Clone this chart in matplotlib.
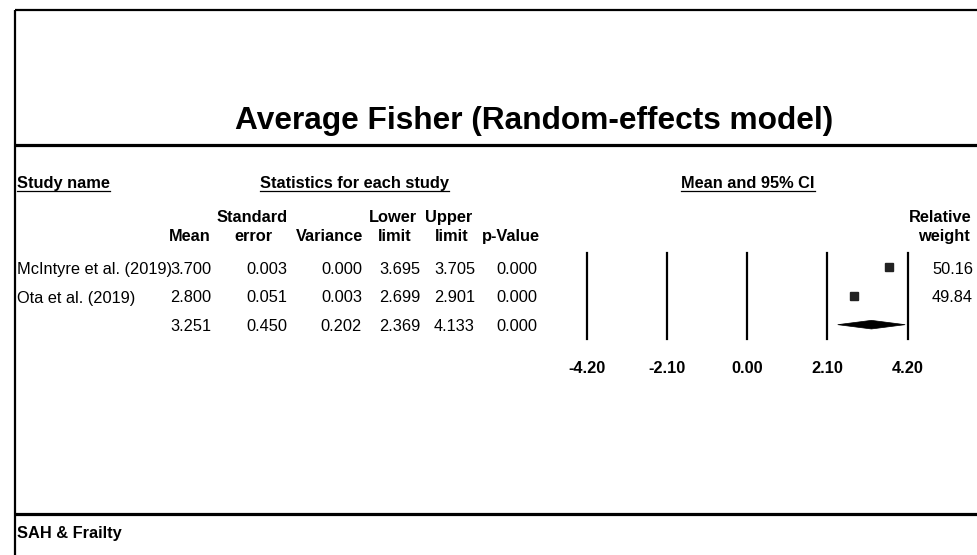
import matplotlib
matplotlib.use("Agg")
import matplotlib.pyplot as plt
from matplotlib.patches import Polygon
import matplotlib.transforms as mtransforms

plt.rcParams['font.family'] = ['Liberation Sans', 'DejaVu Sans']

# ---------------- data ----------------
title = "Average Fisher (Random-effects model)"
studies = ["McIntyre et al. (2019)", "Ota et al. (2019)", ""]
means = [3.700, 2.800, 3.251]
std_err = [0.003, 0.051, 0.450]
variances = [0.000, 0.003, 0.202]
lower = [3.695, 2.699, 2.369]
upper = [3.705, 2.901, 4.133]
p_values = [0.000, 0.000, 0.000]
rel_weight = [50.16, 49.84]
ticks = [-4.20, -2.10, 0.00, 2.10, 4.20]
group_label = "SAH & Frailty"

W, H = 978, 555
fig = plt.figure(figsize=(W / 100, H / 100), dpi=100)

# background overlay in pixel coordinates
bg = fig.add_axes([0, 0, 1, 1])
bg.set_xlim(0, W)
bg.set_ylim(H, 0)
bg.axis('off')

FS = 11.8
# borders
bg.plot([15, 15], [10, H], color='black', lw=1.6, solid_capstyle='butt')
bg.plot([15, W], [10, 10], color='black', lw=1.6, solid_capstyle='butt')
bg.plot([15, W], [145, 145], color='black', lw=2.3, solid_capstyle='butt')
bg.plot([15, W], [514, 514], color='black', lw=2.3, solid_capstyle='butt')

# title
bg.text(534, 129, title, ha='center', va='baseline', fontsize=22.8, fontweight='bold')

# top headers with underlines
def underlined(x, y, s, ha):
    t = bg.text(x, y, s, ha=ha, va='baseline', fontsize=FS, fontweight='bold')
    fig.canvas.draw()
    bb = t.get_window_extent()
    bg.plot([bb.x0, bb.x1], [y + 3, y + 3], color='black', lw=0.9)

underlined(17, 188, "Study name", 'left')
underlined(354, 188, "Statistics for each study", 'center')
underlined(748, 188, "Mean and 95% CI", 'center')

# column headers
hdr1_y, hdr2_y = 222, 241
bold = dict(va='baseline', fontsize=FS, fontweight='bold')
bg.text(211, hdr2_y, "Mean", ha='right', **bold)
bg.text(252, hdr1_y, "Standard", ha='center', **bold)
bg.text(253, hdr2_y, "error", ha='center', **bold)
bg.text(363, hdr2_y, "Variance", ha='right', **bold)
bg.text(393, hdr1_y, "Lower", ha='center', **bold)
bg.text(395, hdr2_y, "limit", ha='center', **bold)
bg.text(449, hdr1_y, "Upper", ha='center', **bold)
bg.text(468, hdr2_y, "limit", ha='right', **bold)
bg.text(540, hdr2_y, "p-Value", ha='right', **bold)
bg.text(972, hdr1_y, "Relative", ha='right', **bold)
bg.text(970, hdr2_y, "weight", ha='right', **bold)

# rows
row_base = [274, 302.5, 331]
for i in range(3):
    y = row_base[i]
    if studies[i]:
        bg.text(17, y, studies[i], ha='left', va='baseline', fontsize=FS)
    bg.text(211, y, f"{means[i]:.3f}", ha='right', va='baseline', fontsize=FS)
    bg.text(287, y, f"{std_err[i]:.3f}", ha='right', va='baseline', fontsize=FS)
    bg.text(362, y, f"{variances[i]:.3f}", ha='right', va='baseline', fontsize=FS)
    bg.text(420, y, f"{lower[i]:.3f}", ha='right', va='baseline', fontsize=FS)
    bg.text(475, y, f"{upper[i]:.3f}", ha='right', va='baseline', fontsize=FS)
    bg.text(537, y, f"{p_values[i]:.3f}", ha='right', va='baseline', fontsize=FS)
    if i < len(rel_weight):
        bg.text(973, y, f"{rel_weight[i]:.2f}", ha='right', va='baseline', fontsize=FS)

# group label
bg.text(17, 538, group_label, ha='left', va='baseline', fontsize=FS, fontweight='bold')

# forest plot axes
x_left, x_right = 586.7, 907.7
y_top, y_bot = 253, 339
ax = fig.add_axes([x_left / W, 1 - y_bot / H, (x_right - x_left) / W, (y_bot - y_top) / H])
ax.set_xlim(ticks[0], ticks[-1])
ax.set_ylim(2.5, -0.5)
ax.axis('off')
for t in ticks:
    ax.axvline(t, color='black', lw=1.6, clip_on=False)

ax.plot(means[:2], [0, 1], linestyle='none', marker='s', markersize=5.8,
        color='#222222', clip_on=False)

h = 0.15
diamond = Polygon([(lower[2], 2), (means[2], 2 - h), (upper[2], 2), (means[2], 2 + h)],
                  closed=True, facecolor='black', edgecolor='black', lw=0.5, clip_on=False)
ax.add_patch(diamond)

trans = mtransforms.blended_transform_factory(ax.transData, bg.transData)
for t in ticks:
    ax.text(t, 373, f"{t:.2f}", transform=trans, ha='center', va='baseline',
            fontsize=FS, fontweight='bold')

fig.savefig("out.png", dpi=100)
